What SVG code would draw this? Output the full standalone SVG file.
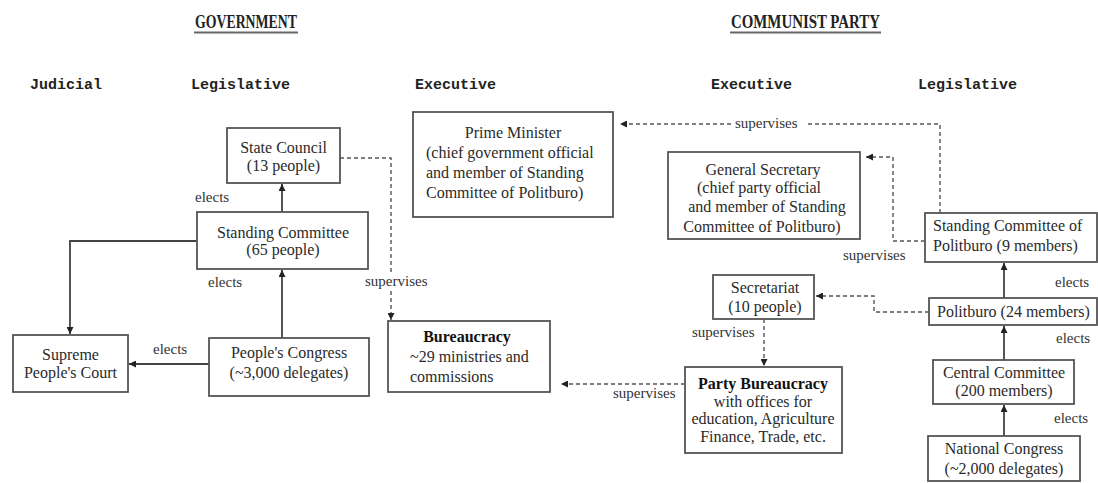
<svg xmlns="http://www.w3.org/2000/svg" width="1098" height="483" viewBox="0 0 1098 483">
<defs>
<marker id="ah" viewBox="0 0 10 10" refX="10" refY="5" markerWidth="8" markerHeight="7" markerUnits="userSpaceOnUse" orient="auto">
<path d="M0,0 L10,5 L0,10 z" fill="#222"/>
</marker>
</defs>
<style>
.box{fill:#fff;stroke:#555;stroke-width:1.8}
.t{font-family:"Liberation Serif","Times New Roman",serif;font-size:16px;fill:#2a2a2a}
.b{font-weight:bold;fill:#111}
.lbl{font-family:"Liberation Serif","Times New Roman",serif;font-size:15px;fill:#333}
.hdr{font-family:"Liberation Mono","Courier New",monospace;font-size:15px;font-weight:bold;fill:#222}
.ttl{font-family:"Liberation Serif","Times New Roman",serif;font-size:18px;font-weight:bold;fill:#222}
.solid{fill:none;stroke:#444;stroke-width:1.8}
.dash{fill:none;stroke:#555;stroke-width:1.4;stroke-dasharray:4 3}
</style>
<rect width="1098" height="483" fill="#fff"/>

<g id="titles">
<text class="ttl" x="195" y="28" textLength="102" lengthAdjust="spacingAndGlyphs">GOVERNMENT</text>
<line x1="194" y1="32.5" x2="298" y2="32.5" stroke="#666" stroke-width="2"/>
<text class="ttl" x="731" y="28" textLength="149" lengthAdjust="spacingAndGlyphs">COMMUNIST PARTY</text>
<line x1="730" y1="32.5" x2="881" y2="32.5" stroke="#666" stroke-width="2"/>
<text class="hdr" x="30" y="89">Judicial</text>
<text class="hdr" x="191" y="89">Legislative</text>
<text class="hdr" x="415" y="89">Executive</text>
<text class="hdr" x="711" y="89">Executive</text>
<text class="hdr" x="918" y="89">Legislative</text>
</g>

<g id="connectors">
<path class="solid" d="M282,212 V184" marker-end="url(#ah)"/>
<path class="solid" d="M282,338 V270" marker-end="url(#ah)"/>
<path class="solid" d="M197,241 H70 V334" marker-end="url(#ah)"/>
<path class="solid" d="M209,364 H129" marker-end="url(#ah)"/>
<path class="dash" d="M340,158 H391 V274"/>
<path class="dash" d="M391,291 V320" marker-end="url(#ah)"/>
<path class="dash" d="M940,213 V124 H806"/>
<path class="dash" d="M731,124 H620" marker-end="url(#ah)"/>
<path class="dash" d="M925,241 H893 V157 H866" marker-end="url(#ah)"/>
<path class="solid" d="M1004,298 V263" marker-end="url(#ah)"/>
<path class="solid" d="M1004,360 V326" marker-end="url(#ah)"/>
<path class="solid" d="M1004,436 V405" marker-end="url(#ah)"/>
<path class="dash" d="M929,312 H874 V296 H816" marker-end="url(#ah)"/>
<path class="dash" d="M764,319 V366" marker-end="url(#ah)"/>
<path class="dash" d="M685,384 H561" marker-end="url(#ah)"/>
<text class="lbl" x="195" y="202">elects</text>
<text class="lbl" x="208" y="287">elects</text>
<text class="lbl" x="153" y="354">elects</text>
<text class="lbl" x="365" y="286">supervises</text>
<text class="lbl" x="735" y="128">supervises</text>
<text class="lbl" x="843" y="260">supervises</text>
<text class="lbl" x="1055" y="287">elects</text>
<text class="lbl" x="1056" y="343">elects</text>
<text class="lbl" x="1054" y="423">elects</text>
<text class="lbl" x="692" y="337">supervises</text>
<text class="lbl" x="613" y="398">supervises</text>
</g>

<g id="state-council">
<rect class="box" x="227" y="128" width="113" height="55"/>
<text class="t" x="283.5" y="153" text-anchor="middle">State Council</text>
<text class="t" x="283.5" y="171" text-anchor="middle">(13 people)</text>
</g>

<g id="standing-committee">
<rect class="box" x="197" y="212" width="171" height="57"/>
<text class="t" x="283" y="238" text-anchor="middle">Standing Committee</text>
<text class="t" x="283" y="255" text-anchor="middle">(65 people)</text>
</g>

<g id="supreme-court">
<rect class="box" x="13" y="335" width="115" height="57"/>
<text class="t" x="70.5" y="360" text-anchor="middle">Supreme</text>
<text class="t" x="70.5" y="378" text-anchor="middle">People's Court</text>
</g>

<g id="peoples-congress">
<rect class="box" x="209" y="338" width="160" height="58"/>
<text class="t" x="289" y="358" text-anchor="middle">People's Congress</text>
<text class="t" x="289" y="378" text-anchor="middle">(~3,000 delegates)</text>
</g>

<g id="prime-minister">
<rect class="box" x="413" y="112" width="200" height="105"/>
<text class="t" x="513" y="138" text-anchor="middle">Prime Minister</text>
<text class="t" x="426" y="158">(chief government official</text>
<text class="t" x="426" y="178">and member of Standing</text>
<text class="t" x="426" y="198">Committee of Politburo)</text>
</g>

<g id="bureaucracy">
<rect class="box" x="388" y="321" width="162" height="71"/>
<text class="t b" x="467" y="342" text-anchor="middle">Bureaucracy</text>
<text class="t" x="410" y="362">~29 ministries and</text>
<text class="t" x="410" y="382">commissions</text>
</g>

<g id="general-secretary">
<rect class="box" x="668" y="152" width="192" height="87"/>
<text class="t" x="763" y="175" text-anchor="middle">General Secretary</text>
<text class="t" x="759" y="193" text-anchor="middle">(chief party official</text>
<text class="t" x="767" y="212" text-anchor="middle">and member of Standing</text>
<text class="t" x="762" y="232" text-anchor="middle">Committee of Politburo)</text>
</g>

<g id="standing-committee-politburo">
<rect class="box" x="925" y="213" width="172" height="49"/>
<text class="t" x="933" y="231">Standing Committee of</text>
<text class="t" x="933" y="251">Politburo (9 members)</text>
</g>

<g id="secretariat">
<rect class="box" x="713" y="275" width="101" height="44"/>
<text class="t" x="765" y="293" text-anchor="middle">Secretariat</text>
<text class="t" x="765" y="312" text-anchor="middle">(10 people)</text>
</g>

<g id="politburo">
<rect class="box" x="929" y="298" width="168" height="27"/>
<text class="t" x="937" y="317">Politburo (24 members)</text>
</g>

<g id="party-bureaucracy">
<rect class="box" x="685" y="367" width="157" height="86"/>
<text class="t b" x="763" y="389" text-anchor="middle">Party Bureaucracy</text>
<text class="t" x="763" y="407" text-anchor="middle">with offices for</text>
<text class="t" x="763" y="424" text-anchor="middle">education, Agriculture</text>
<text class="t" x="763" y="442" text-anchor="middle">Finance, Trade, etc.</text>
</g>

<g id="central-committee">
<rect class="box" x="933" y="360" width="141" height="44"/>
<text class="t" x="1004" y="378" text-anchor="middle">Central Committee</text>
<text class="t" x="1004" y="396" text-anchor="middle">(200 members)</text>
</g>

<g id="national-congress">
<rect class="box" x="928" y="436" width="152" height="45"/>
<text class="t" x="1004" y="454" text-anchor="middle">National Congress</text>
<text class="t" x="1004" y="474" text-anchor="middle">(~2,000 delegates)</text>
</g>
</svg>
